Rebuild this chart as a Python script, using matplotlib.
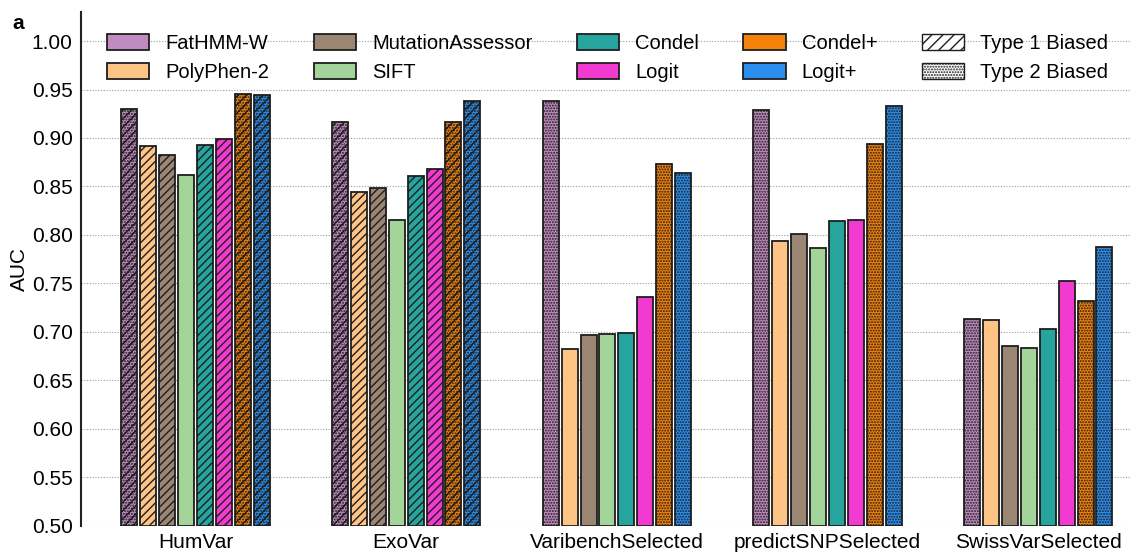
import numpy as np
import matplotlib
matplotlib.use("Agg")
import matplotlib.pyplot as plt
from matplotlib.patches import Patch

plt.rcParams["font.family"] = ["Liberation Sans", "DejaVu Sans"]
plt.rcParams["hatch.linewidth"] = 1.0

# ── Data ──────────────────────────────────────────────────────────────
datasets = ["HumVar", "ExoVar", "VaribenchSelected", "predictSNPSelected",
            "SwissVarSelected"]
methods = ["FatHMM-W", "PolyPhen-2", "MutationAssessor", "SIFT",
           "Condel", "Logit", "Condel+", "Logit+"]
colors = ["#c08bc0", "#fdc486", "#9b8673", "#a3d59b",
          "#26a59e", "#f23ad0", "#f4820a", "#2b8ff0"]

auc_fathmm = [0.930, 0.916, 0.938, 0.929, 0.713]
auc_polyphen = [0.892, 0.844, 0.682, 0.794, 0.712]
auc_ma = [0.882, 0.848, 0.697, 0.801, 0.685]
auc_sift = [0.862, 0.815, 0.698, 0.786, 0.683]
auc_condel = [0.893, 0.861, 0.699, 0.814, 0.703]
auc_logit = [0.899, 0.868, 0.736, 0.815, 0.752]
auc_condel_plus = [0.945, 0.917, 0.873, 0.894, 0.732]
auc_logit_plus = [0.944, 0.938, 0.864, 0.933, 0.788]

auc = [auc_fathmm, auc_polyphen, auc_ma, auc_sift,
       auc_condel, auc_logit, auc_condel_plus, auc_logit_plus]

# bias flags per method x dataset (type 1 = training overlap, type 2 = protein overlap)
type1 = [
    [1, 1, 0, 0, 0],
    [1, 1, 0, 0, 0],
    [1, 1, 0, 0, 0],
    [0, 0, 0, 0, 0],
    [1, 1, 0, 0, 0],
    [1, 1, 0, 0, 0],
    [1, 1, 0, 0, 0],
    [1, 1, 0, 0, 0],
]
type2 = [
    [1, 1, 1, 1, 1],
    [0, 0, 0, 0, 0],
    [0, 0, 0, 0, 0],
    [0, 0, 0, 0, 0],
    [0, 0, 0, 0, 0],
    [0, 0, 0, 0, 0],
    [1, 1, 1, 1, 1],
    [1, 1, 1, 1, 1],
]

HATCH1 = "////"
HATCH2 = "......"

# ── Plot ──────────────────────────────────────────────────────────────
fig = plt.figure(figsize=(11.3, 5.58), dpi=100)
ax = fig.add_axes([0.0717, 0.058, 0.9283, 0.9205])

x = np.arange(len(datasets))
pitch = 0.0897
width = 0.076
for i, (name, col) in enumerate(zip(methods, colors)):
    offs = (i - 3.5) * pitch
    for j in range(len(datasets)):
        h = (HATCH1 if type1[i][j] else "") + (HATCH2 if type2[i][j] else "")
        ax.bar(x[j] + offs, auc[i][j] - 0.5, width, bottom=0.5,
               color=col, edgecolor="#1e1e1e", linewidth=1.3,
               hatch=h if h else None, zorder=3)

ax.set_ylim(0.5, 1.03)
ax.set_xlim(-0.543, 4.435)
ax.set_yticks(np.arange(0.5, 1.001, 0.05))
ax.set_yticklabels([f"{v:.2f}" for v in np.arange(0.5, 1.001, 0.05)])
ax.set_xticks(x)
ax.set_xticklabels(datasets)
ax.tick_params(axis="both", length=0, labelsize=15, pad=6)
ax.tick_params(axis="x", pad=5)
ax.set_ylabel("AUC", fontsize=15, labelpad=2)

ax.grid(axis="y", linestyle=(0, (1, 1.5)), color="#9a9a9a", linewidth=0.8,
        zorder=0)
for s in ["top", "right", "bottom"]:
    ax.spines[s].set_visible(False)
ax.spines["left"].set_linewidth(1.5)
ax.spines["left"].set_color("#222222")

handles = [Patch(facecolor=c, edgecolor="#1e1e1e", linewidth=1.3, label=m)
           for m, c in zip(methods, colors)]
handles.append(Patch(facecolor="white", edgecolor="#1e1e1e", hatch="///",
                     label="Type 1 Biased"))
handles.append(Patch(facecolor="white", edgecolor="#1e1e1e", hatch=HATCH2,
                     label="Type 2 Biased"))
fig.legend(handles=handles, ncol=5, loc="upper left",
           bbox_to_anchor=(107 / 1130, 1 - 34 / 558),
           bbox_transform=fig.transFigure, frameon=False, fontsize=14.5,
           borderpad=0, borderaxespad=0,
           handlelength=2.1, handleheight=0.85, columnspacing=2.2,
           labelspacing=0.48, handletextpad=0.8)

fig.text(0.011, 0.975, "a", fontsize=15, fontweight="bold", va="top")

fig.savefig("out.png", dpi=100)
